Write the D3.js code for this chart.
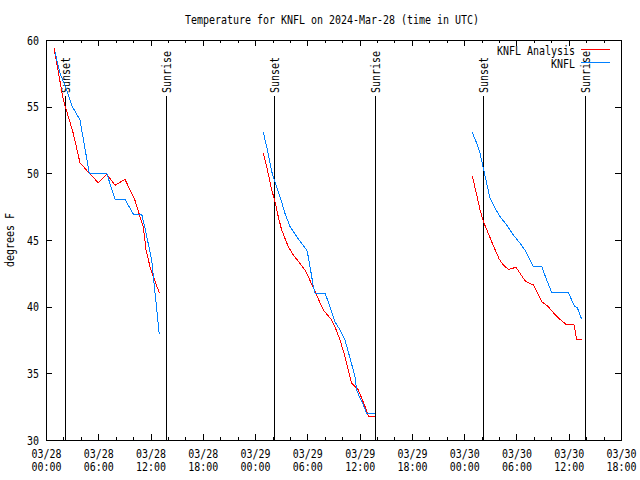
<!DOCTYPE html>
<html>
<head>
<meta charset="utf-8">
<script src="https://cdn.jsdelivr.net/npm/d3@7"></script>
<style>
  html, body { margin: 0; padding: 0; background: #fff; }
  svg { display: block; }
  text { font-family: "DejaVu Sans Mono", "Liberation Mono", monospace; font-size: 12px; fill: #000; }
</style>
</head>
<body>
<svg id="chart" width="640" height="480"></svg>
<script>
// ---------- data (hours after 2024-03-28 00:00 UTC, temperature in F) ----------
const titleText = "Temperature for KNFL on 2024-Mar-28 (time in UTC)";
const yLabel = "degrees F";
const seriesNames = ["KNFL Analysis", "KNFL"];
const yTicks = [30, 35, 40, 45, 50, 55, 60];

// Analysis (red), three runs
const anaHours1 = [0.92, 1.99, 3.13, 3.9, 4.97, 6.0, 6.97, 7.92, 9.07, 9.64, 10.2, 10.79, 11.17, 11.48, 11.94, 12.32, 13.0];
const anaTemps1 = [59.4, 55.5, 53.0, 50.8, 50.0, 49.3, 49.95, 49.1, 49.55, 48.75, 48.0, 46.75, 46.0, 44.25, 43.0, 42.25, 41.05];
const anaHours2 = [24.94, 25.33, 25.91, 26.29, 26.66, 27.05, 27.81, 28.39, 29.15, 29.73, 30.11, 30.88, 31.83, 32.79, 33.17, 33.75, 34.32, 34.7, 35.09, 35.85, 36.24, 36.62, 37.0, 37.76];
const anaTemps2 = [51.5, 50.5, 48.75, 47.87, 46.75, 45.75, 44.5, 43.87, 43.25, 42.75, 42.25, 41.13, 39.75, 39.0, 38.5, 37.5, 36.25, 35.25, 34.25, 33.75, 33.13, 32.5, 31.8, 31.8];
const anaHours3 = [48.93, 49.44, 49.82, 50.2, 50.77, 51.16, 52.03, 52.49, 53.07, 53.95, 54.41, 54.98, 55.36, 55.94, 56.32, 56.9, 57.66, 58.23, 59.0, 59.76, 60.6, 60.92, 61.49];
const anaTemps3 = [49.8, 48.38, 47.25, 46.38, 45.5, 44.87, 43.55, 43.13, 42.8, 42.95, 42.5, 41.95, 41.8, 41.63, 41.13, 40.38, 40.0, 39.55, 39.05, 38.63, 38.63, 37.55, 37.55];

// Observed KNFL (blue), three runs
const obsHours1 = [1.03, 1.61, 2.38, 2.95, 3.9, 4.97, 6.97, 7.92, 9.07, 10.02, 10.98, 11.36, 12.13, 13.0];
const obsTemps1 = [59.1, 57.5, 56.25, 55.1, 54.0, 50.0, 50.0, 48.05, 48.05, 46.95, 46.95, 45.9, 43.5, 37.95];
const obsHours2 = [24.94, 25.33, 25.91, 26.29, 26.86, 27.43, 28.01, 28.78, 29.35, 29.92, 30.11, 30.5, 30.68, 30.88, 32.03, 32.6, 33.17, 33.75, 34.32, 34.9, 35.47, 35.66, 36.04, 36.42, 36.81, 37.76];
const obsTemps2 = [53.08, 52.0, 50.12, 49.37, 48.25, 47.0, 46.0, 45.25, 44.75, 44.25, 43.75, 42.25, 41.5, 41.0, 41.0, 40.0, 38.87, 38.25, 37.5, 36.13, 34.75, 33.75, 33.13, 32.63, 32.0, 32.0];
const obsHours3 = [48.93, 49.44, 49.82, 50.2, 50.59, 50.96, 51.54, 52.11, 52.88, 53.64, 54.41, 54.98, 55.36, 55.94, 56.9, 57.47, 58.05, 59.95, 60.34, 60.72, 60.99, 61.49];
const obsTemps3 = [53.08, 52.25, 51.5, 50.38, 49.25, 48.13, 47.38, 46.75, 46.13, 45.38, 44.75, 44.25, 43.75, 43.0, 43.0, 42.0, 41.05, 41.05, 40.5, 40.0, 39.92, 39.05];

// Sunset / sunrise markers (hours after start)
const eventHours = [2.2, 13.78, 26.15, 37.77, 50.17, 61.85];
const eventNames = ["Sunset", "Sunrise", "Sunset", "Sunrise", "Sunset", "Sunrise"];

// ---------- drawing ----------
const t0 = Date.UTC(2024, 2, 28, 0, 0);
const toDate = h => new Date(t0 + h * 3600e3);
const zip = (hs, vs) => hs.map((h, i) => ({ t: toDate(h), v: vs[i] }));

const L = 46, R = 621, T = 40, B = 440;
const svg = d3.select("#chart");
const x = d3.scaleUtc().domain([toDate(0), toDate(66)]).range([L, R]);
const y = d3.scaleLinear().domain([30, 60]).range([B, T]);

function fitText(sel, str) {
  sel.text(str).attr("textLength", str.length * 6).attr("lengthAdjust", "spacingAndGlyphs");
  return sel;
}

const majors = d3.utcHour.every(6).range(toDate(0), toDate(66.01));
const minors = d3.utcHour.every(2).range(toDate(0), toDate(66.01)).filter(d => d.getUTCHours() % 6 !== 0);

// minor ticks bottom & top
svg.append("g").attr("transform", `translate(0,${B})`).attr("shape-rendering", "crispEdges")
  .call(d3.axisBottom(x).tickValues(minors).tickSize(-3).tickFormat(""))
  .call(g => g.select(".domain").remove());
svg.append("g").attr("transform", `translate(0,${T})`).attr("shape-rendering", "crispEdges")
  .call(d3.axisTop(x).tickValues(minors).tickSize(-3).tickFormat(""))
  .call(g => g.select(".domain").remove());

// major ticks bottom with two-line labels
const fmtDay = d3.utcFormat("%m/%d"), fmtHour = d3.utcFormat("%H:%M");
const xAxisG = svg.append("g").attr("transform", `translate(0,${B})`).attr("shape-rendering", "crispEdges")
  .call(d3.axisBottom(x).tickValues(majors).tickSize(-6).tickFormat(""))
  .call(g => g.select(".domain").remove());
xAxisG.selectAll(".tick").each(function(d) {
  const g = d3.select(this);
  g.select("text").remove();
  fitText(g.append("text").attr("y", 14).attr("text-anchor", "middle").attr("dominant-baseline", "central"), fmtDay(d));
  fitText(g.append("text").attr("y", 27).attr("text-anchor", "middle").attr("dominant-baseline", "central"), fmtHour(d));
});
svg.append("g").attr("transform", `translate(0,${T})`).attr("shape-rendering", "crispEdges")
  .call(d3.axisTop(x).tickValues(majors).tickSize(-6).tickFormat(""))
  .call(g => g.select(".domain").remove());

// y axes
const yAxisG = svg.append("g").attr("transform", `translate(${L},0)`).attr("shape-rendering", "crispEdges")
  .call(d3.axisLeft(y).tickValues(yTicks).tickSize(-6).tickFormat(""))
  .call(g => g.select(".domain").remove());
yAxisG.selectAll(".tick").each(function(d) {
  const g = d3.select(this);
  g.select("text").remove();
  fitText(g.append("text").attr("x", -7).attr("text-anchor", "end").attr("dominant-baseline", "central"), String(d));
});
svg.append("g").attr("transform", `translate(${R},0)`).attr("shape-rendering", "crispEdges")
  .call(d3.axisRight(y).tickValues(yTicks).tickSize(-6).tickFormat(""))
  .call(g => g.select(".domain").remove());

svg.selectAll(".tick line").attr("stroke", "#000");

// frame
svg.append("rect").attr("x", L + 0.5).attr("y", T + 0.5).attr("width", R - L).attr("height", B - T)
  .attr("fill", "none").attr("stroke", "#000").attr("shape-rendering", "crispEdges");

// sunset/sunrise lines and labels
eventHours.forEach((h, i) => {
  const xx = Math.round(x(toDate(h))) + 0.5;
  svg.append("line").attr("x1", xx).attr("x2", xx).attr("y1", B).attr("y2", 96)
    .attr("stroke", "#000").attr("stroke-width", 1).attr("shape-rendering", "crispEdges");
  fitText(svg.append("text").attr("transform", `translate(${xx},93) rotate(-90)`)
    .attr("text-anchor", "start").attr("dominant-baseline", "central"), eventNames[i]);
});

// data lines
const line = d3.line().x(d => x(d.t)).y(d => y(d.v));
const red = "#ff0000", blue = "#0080ff";
[[anaHours1, anaTemps1], [anaHours2, anaTemps2], [anaHours3, anaTemps3]].forEach(([hs, vs]) => {
  svg.append("path").datum(zip(hs, vs)).attr("d", line).attr("fill", "none")
    .attr("stroke", red).attr("stroke-width", 1).attr("shape-rendering", "crispEdges");
});
[[obsHours1, obsTemps1], [obsHours2, obsTemps2], [obsHours3, obsTemps3]].forEach(([hs, vs]) => {
  svg.append("path").datum(zip(hs, vs)).attr("d", line).attr("fill", "none")
    .attr("stroke", blue).attr("stroke-width", 1).attr("shape-rendering", "crispEdges");
});

// legend
const legColors = [red, blue];
seriesNames.forEach((name, i) => {
  const ly = 49.5 + i * 13;
  fitText(svg.append("text").attr("x", 575).attr("y", ly + 1).attr("text-anchor", "end").attr("dominant-baseline", "central"), name);
  svg.append("line").attr("x1", 581).attr("x2", 610).attr("y1", ly).attr("y2", ly)
    .attr("stroke", legColors[i]).attr("shape-rendering", "crispEdges");
});

// title and y label
fitText(svg.append("text").attr("x", 332).attr("y", 20).attr("text-anchor", "middle").attr("dominant-baseline", "central"), titleText);
fitText(svg.append("text").attr("transform", "translate(10,240) rotate(-90)").attr("text-anchor", "middle").attr("dominant-baseline", "central"), yLabel);
</script>
</body>
</html>
